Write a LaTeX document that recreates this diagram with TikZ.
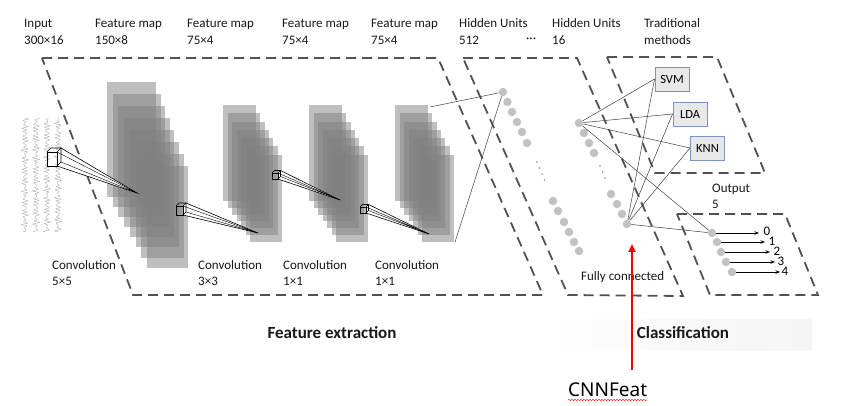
\documentclass[tikz,border=0pt]{standalone}
\usepackage{fontspec}
\setmainfont{Carlito}
\newfontfamily\cnnfont{Noto Sans}
\usetikzlibrary{arrows.meta,decorations.pathmorphing,calc}
\definecolor{boxedge}{RGB}{125,148,192}
\begin{document}
\begin{tikzpicture}[x=1pt,y=-1pt,
  lbl/.style={anchor=base west, inner sep=0, font=\fontsize{13}{15}\selectfont, text=black!90},
  zone/.style={draw=black!68, line width=1.8pt, dash pattern=on 10pt off 6pt},
  fmap/.style={fill=black!50, fill opacity=0.5, draw=none},
  unit/.style={circle, fill=black!24, minimum size=8.5pt, inner sep=0},
  tinydot/.style={circle, fill=black!45, minimum size=1.6pt, inner sep=0},
  link/.style={draw=black!75, line width=0.5pt},
  clf/.style={draw=boxedge, fill=black!9, line width=0.9pt, minimum width=34pt, minimum height=24pt, inner sep=0, font=\fontsize{12.5}{14}\selectfont},
  kern/.style={draw=black, line width=0.6pt},
  eeg/.style={draw=black!35, line width=0.35pt},
  outarrow/.style={draw=black, line width=0.8pt, -{Stealth[length=4.5pt,width=3.5pt]}},
  digit/.style={inner sep=0, font=\fontsize{13}{15}\selectfont},
  title/.style={anchor=base, inner sep=0, font=\bfseries\fontsize{17}{20}\selectfont, text=black!90}
]
\useasboundingbox (0,0) rectangle (844,406);
\fill[white] (0,0) rectangle (844,406);
\shade[left color=white, right color=black!4] (520,320) rectangle (812,350);

% dashed zones
\draw[zone] (42,58) -- (438,58) -- (543,295) -- (133,295) -- cycle;
\draw[zone] (463,58) -- (577,58) -- (683,296) -- (568,295) -- cycle;
\draw[zone] (607,57) -- (717,57) -- (765,173) -- (655,173) -- cycle;
\draw[zone] (677,214) -- (785,214) -- (818,295) -- (710,295) -- cycle;

% input EEG traces
\foreach \cx/\p in {25/0,36/40,47/80,58/120}
  \draw[eeg] plot[domain=0:114, samples=230] ({\cx+1.8*sin(97*\x+\p)+1.2*sin(131*\x+2*\p)+0.7*sin(53*\x)}, {118+\x});

% feature maps
\foreach \i in {0,...,7}
  \fill[fmap] ({107+5.7*\i},{82+12*\i}) rectangle ++({49-1.1*\i},{115-1.9*\i});
\foreach \sx in {223,309,395}
  \foreach \i in {0,...,6}
    \fill[fmap] ({\sx+4.5*\i},{105+8.3*\i}) rectangle ++({33-0.2*\i},{96-1.5*\i});

% convolution kernels
\foreach \x/\y/\w/\h/\d/\ax/\ay in {47/152/10/14/4/137/193, 176/206/7/9/3/258/233, 272/173/6/6/2.5/340/200, 360/207/6/6/2.5/429/234} {
  \fill[white] ({\x+\w},{\y}) -- ({\x+\w+\d},{\y-\d}) -- (\ax,\ay) -- ({\x+\w},{\y+\h}) -- cycle;
  \draw[kern] ({\x+\w+\d},{\y-\d}) -- (\ax,\ay) -- ({\x+\w},{\y+\h});
  \draw[kern, line width=0.4pt] ({\x+\w},{\y}) -- (\ax,\ay) -- ({\x+\w+\d},{\y+\h-\d});
  \draw[kern] (\x,\y) rectangle ({\x+\w},{\y+\h});
  \draw[kern] (\x,\y) -- ({\x+\d},{\y-\d}) -- ({\x+\w+\d},{\y-\d}) -- ({\x+\w+\d},{\y+\h-\d}) -- ({\x+\w},{\y+\h});
  \draw[kern] ({\x+\w},{\y}) -- ({\x+\w+\d},{\y-\d});
}

% hidden units 512
\foreach \n/\x/\y in {1/503/92,2/507.5/102,3/512/112,4/517/122,5/522/132,6/527/143}
  \node[unit] (h\n) at (\x,\y) {};
\foreach \n/\x/\y in {1/553/201,2/558/211,3/564/222,4/569/232,5/574/242,6/579/251}
  \node[unit] (g\n) at (\x,\y) {};
\foreach \n/\x/\y in {1/537/162,2/539.5/168,3/542/174,4/544.5/180}
  \node[tinydot] (hd\n) at (\x,\y) {};
% hidden units 16
\foreach \n/\x/\y in {1/579/123,2/584/133,3/589/143,4/594/153}
  \node[unit] (f\n) at (\x,\y) {};
\foreach \n/\x/\y in {1/600/166,2/602.5/172,3/605/178}
  \node[tinydot] (fd\n) at (\x,\y) {};
\foreach \n/\x/\y in {1/611/194,2/617/204,3/622/214,4/627/224}
  \node[unit] (e\n) at (\x,\y) {};
% output units
\foreach \n/\x/\y in {1/712/233,2/717/242,3/721/252,4/726/262,5/732/272}
  \node[unit] (o\n) at (\x,\y) {};

% classifiers
\node[clf] (svm) at (672,79) {SVM};
\node[clf] (lda) at (690,114) {LDA};
\node[clf] (knn) at (707.5,148) {KNN};

% links
\coordinate (s4t) at (430,107);
\coordinate (s4b) at (455,242);
\draw[link] (s4t) -- (h1);
\draw[link] (s4b) -- (h1);
\foreach \a in {f1,e4}
  \foreach \b in {svm.west,lda.west,knn.west,o1}
    \draw[link] (\a) -- (\b);

% output arrows
\foreach \n/\x/\y in {1/759/233, 2/765/242, 3/770/252, 4/775/262, 5/780/272} {
  \coordinate (t\n) at (\x,\y);
  \draw[outarrow] (o\n) -- (t\n);
}
\node[digit] (d0) at (767,231.5) {0};
\node[digit] (d1) at (772,241) {1};
\node[digit] (d2) at (777,251) {2};
\node[digit] (d3) at (781,261.5) {3};
\node[digit] (d4) at (785,271.5) {4};

% top labels
\node[lbl] (l1a) at (24,28) {Input};
\node[lbl] (l1b) at (24,45) {300×16};
\node[lbl] (l2a) at (95,28) {Feature map};
\node[lbl] (l2b) at (95,45) {150×8};
\node[lbl] (l3a) at (187,28) {Feature map};
\node[lbl] (l3b) at (187,45) {75×4};
\node[lbl] (l4a) at (282,28) {Feature map};
\node[lbl] (l4b) at (282,45) {75×4};
\node[lbl] (l5a) at (371,28) {Feature map};
\node[lbl] (l5b) at (371,45) {75×4};
\node[lbl] (l6a) at (459,28) {Hidden Units};
\node[lbl] (l6b) at (459,45) {512};
\node[lbl] (l6c) at (526,43) {···};
\node[lbl] (l7a) at (552,28) {Hidden Units};
\node[lbl] (l7b) at (552,45) {16};
\node[lbl] (l8a) at (644,28) {Traditional};
\node[lbl] (l8b) at (644,45) {methods};

% convolution labels
\node[lbl] (c1a) at (52,270) {Convolution};
\node[lbl] (c1b) at (52,286) {5×5};
\node[lbl] (c2a) at (198,270) {Convolution};
\node[lbl] (c2b) at (198,286) {3×3};
\node[lbl] (c3a) at (283,270) {Convolution};
\node[lbl] (c3b) at (283,286) {1×1};
\node[lbl] (c4a) at (375,270) {Convolution};
\node[lbl] (c4b) at (375,286) {1×1};

\node[lbl] (outa) at (712,193) {Output};
\node[lbl] (outb) at (712,209) {5};
\node[lbl] (fc) at (581,281) {Fully connected};

\node[title] (fe) at (332,338) {Feature extraction};
\node[title] (cl) at (683,338) {Classification};

% CNNFeat marker
\node[anchor=base west, inner sep=0, font=\cnnfont\fontsize{19}{22}\selectfont] (cnn) at (568,396) {CNNFeat};
\coordinate (rtail) at (632,370);
\coordinate (rtip) at (632,244);
\draw[red, line width=1.8pt, -{Triangle[length=8pt,width=7pt]}] (rtail) -- (rtip);
\draw[red!85, line width=0.5pt, decorate, decoration={snake, amplitude=0.7pt, segment length=3pt}]
  ($(cnn.base west)+(0,4)$) -- ($(cnn.base east)+(0,4)$);
\end{tikzpicture}
\end{document}
